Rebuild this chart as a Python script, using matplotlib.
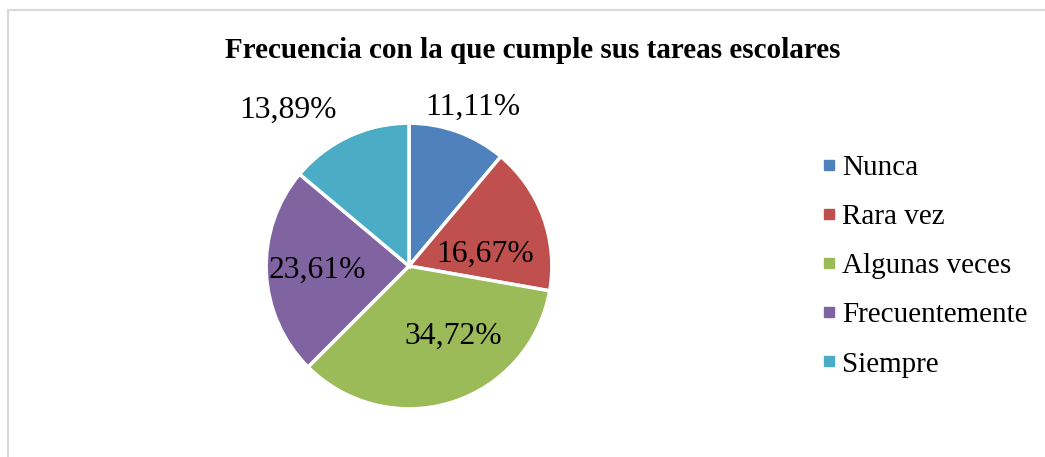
import matplotlib.pyplot as plt
from matplotlib.patches import Rectangle
from matplotlib.lines import Line2D

categories = ["Nunca", "Rara vez", "Algunas veces", "Frecuentemente", "Siempre"]
percentages = [11.11, 16.67, 34.72, 23.61, 13.89]
colors = ["#4F81BD", "#C0504D", "#9BBB59", "#8064A2", "#4BACC6"]
title = "Frecuencia con la que cumple sus tareas escolares"

# label offsets (in pie radii) as placed by the original "best fit"
label_pos = [(0.45, 1.11), (0.53, 0.08), (0.31, -0.49), (-0.64, -0.03), (-0.85, 1.09)]

plt.rcParams['font.family'] = ['Liberation Serif', 'DejaVu Serif']

W, H = 1045, 457
fig = plt.figure(figsize=(W / 100, H / 100), dpi=100)

# light grey chart frame
fig.patches.append(Rectangle((8 / W, -0.1), 1.2, (H - 10) / H + 0.1,
                             transform=fig.transFigure, fill=False,
                             edgecolor="#D9D9D9", lw=1.5))

cx, cy, half = 409, H - 266, 200
ax = fig.add_axes([(cx - half) / W, (cy - half) / H, 2 * half / W, 2 * half / H])
wedges, _ = ax.pie(percentages, colors=colors, startangle=90, counterclock=False,
                   radius=1, wedgeprops=dict(edgecolor="white", linewidth=2.5))
ax.set_xlim(-1.4, 1.4)
ax.set_ylim(-1.4, 1.4)
ax.set_aspect('equal', adjustable='box')
ax.axis('off')

for p, (x, y) in zip(percentages, label_pos):
    ax.text(x, y, f"{p:.2f}%".replace(".", ","), ha="center", va="center",
            fontsize=22.8, color="black")

fig.text(533 / W, 1 - 50 / H, title, ha="center", va="center",
         fontsize=21, fontweight="bold")

handles = [Line2D([], [], marker="s", linestyle="none", markersize=7,
                  markerfacecolor=c, markeredgecolor=c) for c in colors]
fig.legend(handles, categories, loc="center left",
           bbox_to_anchor=(822 / W, 1 - 266 / H), frameon=False,
           fontsize=21, labelspacing=0.78, handlelength=0.5,
           handletextpad=0.2, borderaxespad=0, borderpad=0)

plt.savefig("out.png", dpi=100)
plt.close()
